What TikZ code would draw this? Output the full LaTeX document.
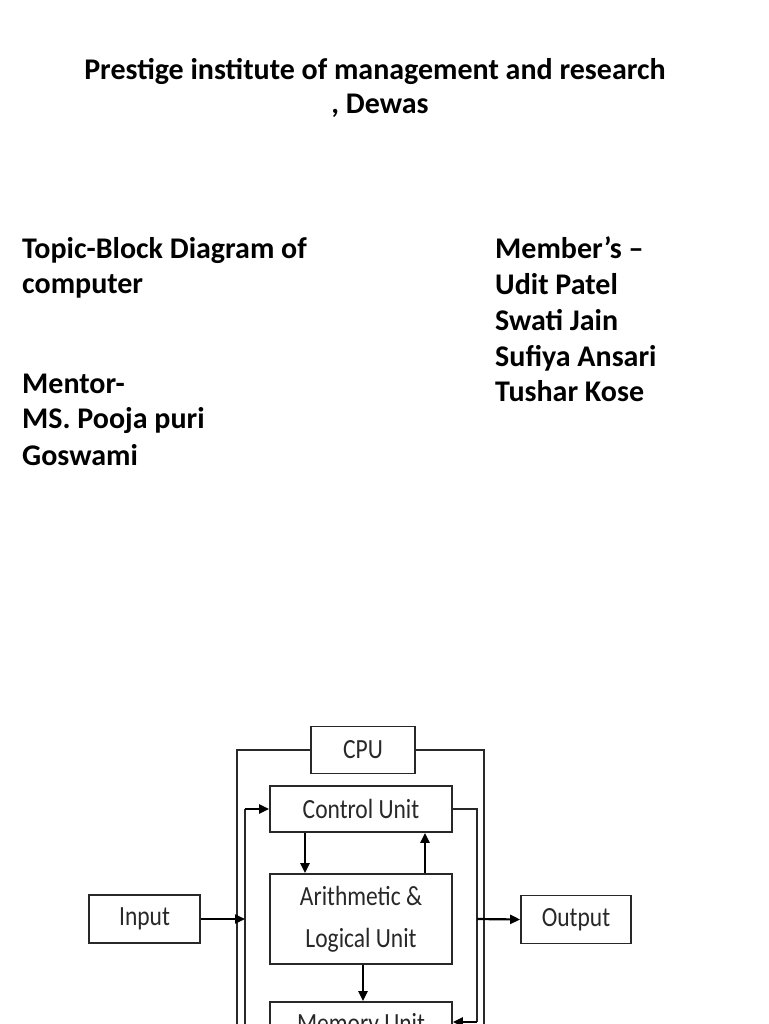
\documentclass[tikz,border=0pt]{standalone}
\usepackage{fontspec}
\setmainfont{Carlito}
\usepackage{xcolor}
\usepackage{tikz}
\usetikzlibrary{arrows.meta, positioning}
\definecolor{framegray}{RGB}{40,40,40}
\newcommand{\stretchtext}[1]{\scalebox{1}[1.18]{#1}}

\begin{document}
\begin{tikzpicture}[x=1pt, y=-1pt,
        heading/.style={font=\fontsize{30}{36}\selectfont\bfseries, inner sep=0pt},
        block/.style={draw=framegray, line width=1.7pt, text=framegray, inner sep=0pt,
            minimum width=182, minimum height=46, align=center,
            font=\fontsize{23.5}{42}\selectfont},
        wire/.style={draw=framegray, line width=1.5pt},
        flow/.style={draw=black, line width=2.2pt, -{Triangle[length=10pt, width=9pt]}}]
        \useasboundingbox (0,0) rectangle (768,1024);
        \fill[white] (0,0) rectangle (768,1024);
        \clip (0,0) rectangle (768,1024);

        % Title
        \node[heading, anchor=base] (title) at (375,79.5) {Prestige institute of management and research};
        \node[heading, anchor=base] (place) at (380,113.5) {, Dewas};

        % Topic and mentor
        \node[heading, anchor=base west] (topic1) at (22,258.5) {Topic-Block Diagram of};
        \node[heading, anchor=base west] (topic2) at (22,293.5) {computer};
        \node[heading, anchor=base west] (mentor1) at (22,393) {Mentor-};
        \node[heading, anchor=base west] (mentor2) at (22,428.5) {MS. Pooja puri};
        \node[heading, anchor=base west] (mentor3) at (22,465) {Goswami};

        % Members
        \node[heading, anchor=base west] (mem0) at (495,258.5) {Member’s –};
        \node[heading, anchor=base west] (mem1) at (495,294) {Udit Patel};
        \node[heading, anchor=base west] (mem2) at (495,330) {Swati Jain};
        \node[heading, anchor=base west] (mem3) at (495,366) {Sufiya Ansari};
        \node[heading, anchor=base west] (mem4) at (495,401) {Tushar Kose};

        % Block diagram
        \node[block, minimum width=104, minimum height=47] (cpu) at (363,750) {\stretchtext{CPU}};
        \node[block] (cu) at (361,809) {\stretchtext{Control Unit}};
        \node[block, minimum height=90] (alu) at (361,919) {\stretchtext{Arithmetic \&}\\\stretchtext{Logical Unit}};
        \node[block] (mu) at (361,1025) {\stretchtext{Memory Unit}};
        \node[block, minimum width=111, minimum height=48] (input) at (144.5,919) {\stretchtext{Input}};
        \node[block, minimum width=110, minimum height=48] (output) at (576,919.5) {\stretchtext{Output}};

        % CPU frame
        \coordinate (fl) at (237,1040);
        \coordinate (fr) at (484,1040);
        \draw[wire] (cpu.west) -| (fl);
        \draw[wire] (cpu.east) -| (fr);

        % Inner buses
        \coordinate (busl) at (245,1040);
        \coordinate (busr) at (477,809);
        \coordinate (ctl) at (245,809);
        \coordinate (inj) at (245,919);
        \coordinate (outj) at (477,919);
        \coordinate (mem) at (477,1022);
        \draw[wire] (busl) -- (ctl);
        \draw[flow] (ctl) -- (cu.west);
        \draw[wire] (cu.east) -- (busr) -- (mem);
        \draw[flow] (mem) -- (mu.east |- mem);

        % Input and Output
        \draw[flow] (input.east) -- (inj);
        \draw[flow] (outj) -- (output.west);

        % Control Unit and ALU
        \draw[flow] (cu.south -| 305,0) -- (alu.north -| 305,0);
        \draw[flow] (alu.north -| 425,0) -- (cu.south -| 425,0);
        \draw[flow] (alu.south -| 363,0) -- (mu.north -| 363,0);
\end{tikzpicture}
\end{document}
